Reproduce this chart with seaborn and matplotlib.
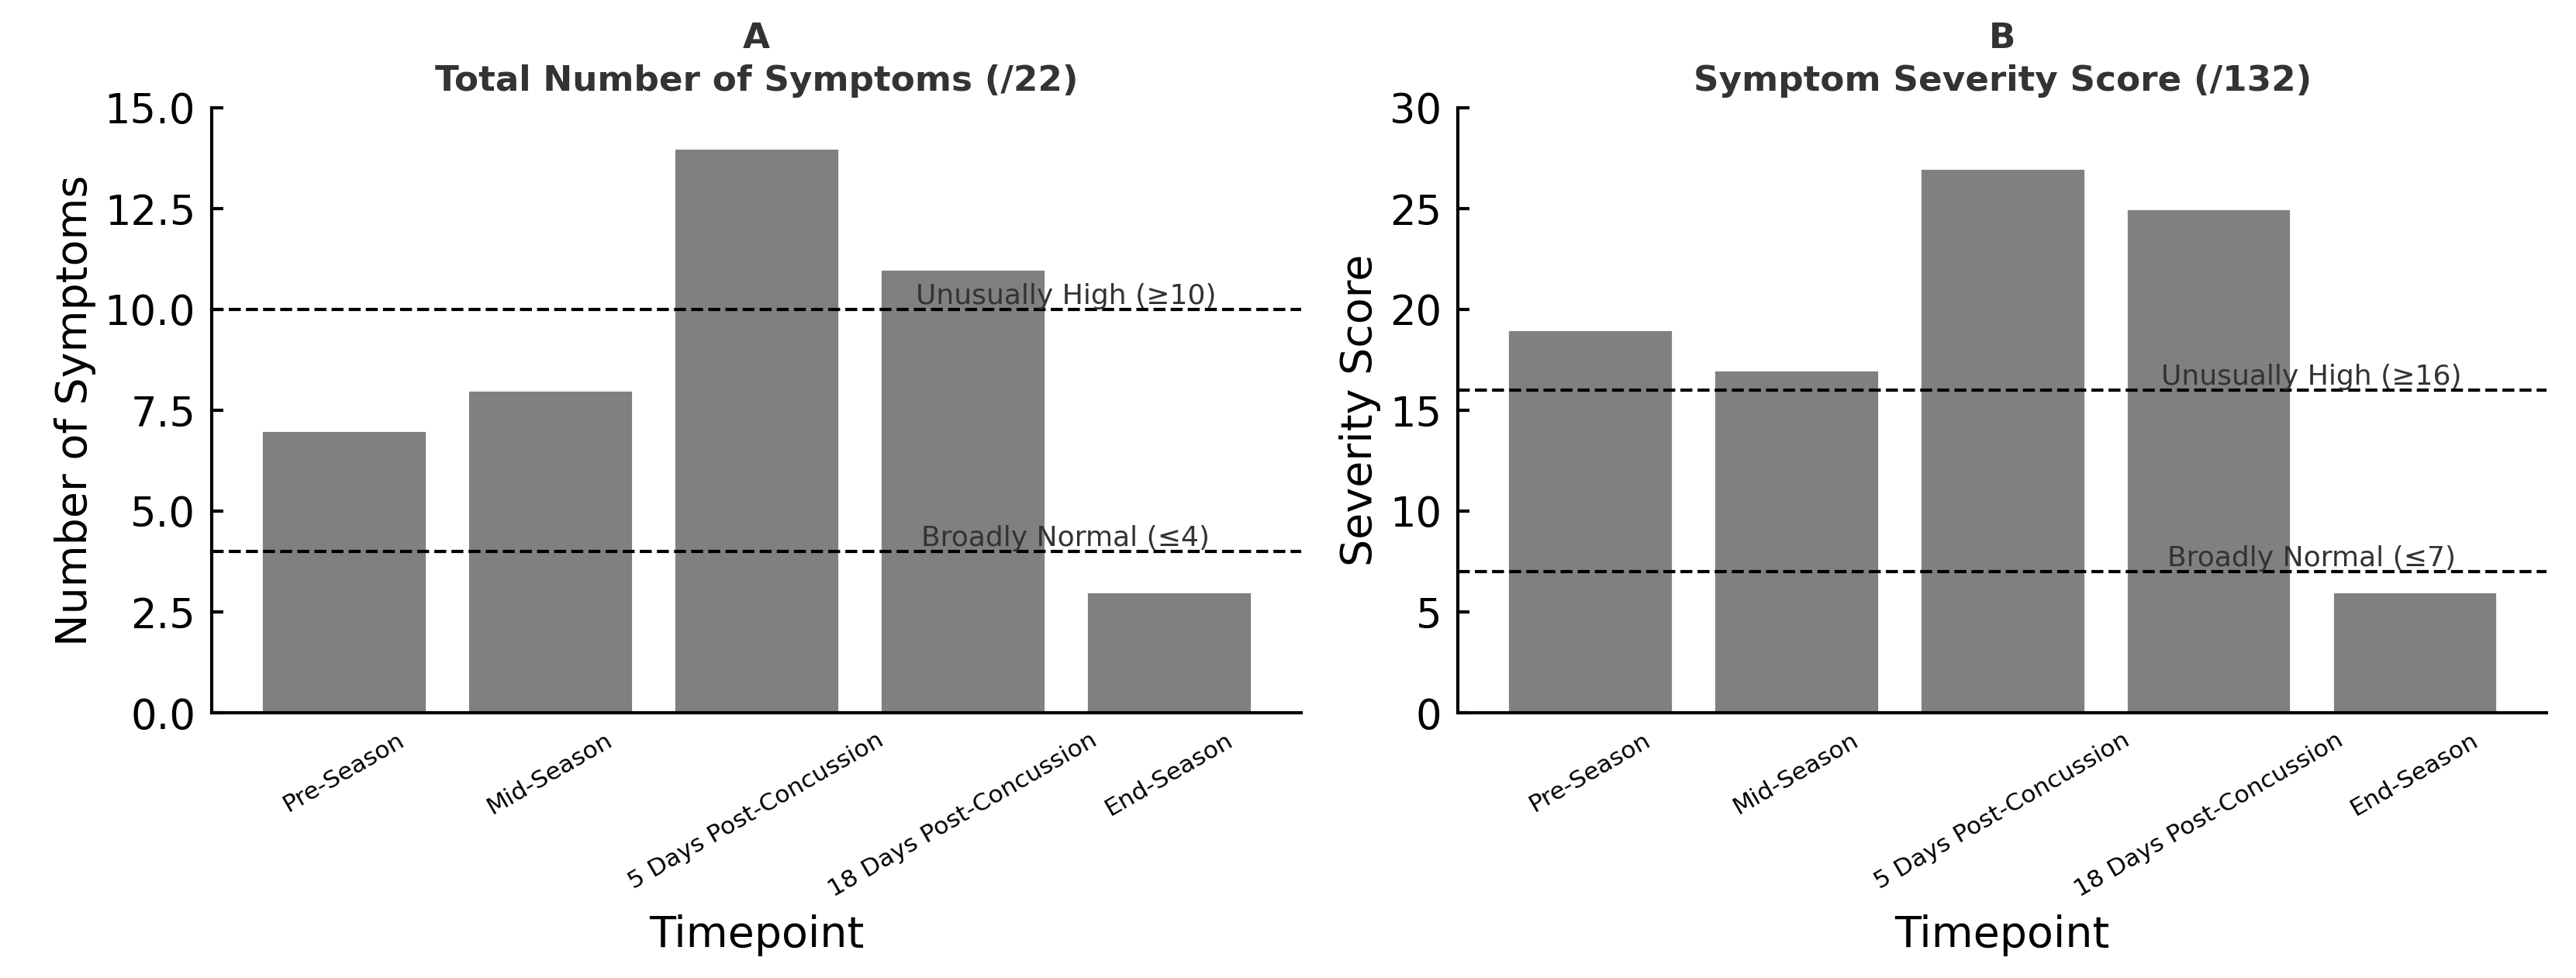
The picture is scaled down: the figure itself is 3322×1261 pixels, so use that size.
import matplotlib
matplotlib.use("Agg")
import matplotlib.pyplot as plt
import seaborn as sns
import pandas as pd

# data
timepoints = ["Pre-Season", "Mid-Season", "5 Days Post-Concussion",
              "18 Days Post-Concussion", "End-Season"]
n_symptoms = [7, 8, 14, 11, 3]
severity = [19, 17, 27, 25, 6]

sym_high, sym_normal = 10, 4
sev_high, sev_normal = 16, 7

sns.set_style("ticks")
plt.rcParams['font.family'] = ['DejaVu Sans']
plt.rcParams.update({
    "xtick.direction": "in",
    "ytick.direction": "in",
    "axes.linewidth": 1.5,
    "axes.edgecolor": "black",
    "xtick.color": "black",
    "ytick.color": "black",
    "axes.labelcolor": "black",
    "xtick.major.width": 1.5,
    "ytick.major.width": 1.5,
    "xtick.major.size": 5.4,
    "ytick.major.size": 5.4,
})

df = pd.DataFrame({"Timepoint": timepoints,
                   "Symptoms": n_symptoms,
                   "Severity": severity})

fig = plt.figure(figsize=(16.61, 6.305), dpi=200)
ax1 = fig.add_axes([0.0822, 0.2712, 0.4228, 0.6186])
ax2 = fig.add_axes([0.5660, 0.2712, 0.4226, 0.6186])

panels = [
    ("Symptoms", "A\nTotal Number of Symptoms (/22)", "Number of Symptoms",
     sym_high, sym_normal, (0, 15), [0, 2.5, 5, 7.5, 10, 12.5, 15], "{:.1f}"),
    ("Severity", "B\nSymptom Severity Score (/132)", "Severity Score",
     sev_high, sev_normal, (0, 30), [0, 5, 10, 15, 20, 25, 30], "{:.0f}"),
]

for ax, (col, title, ylab, hi, lo, ylim, yt, fmt) in zip([ax1, ax2], panels):
    sns.barplot(data=df, x="Timepoint", y=col, color="#808080",
                saturation=1, width=0.8, ax=ax)
    ax.axhline(hi, color="black", linestyle="--", linewidth=1.5)
    ax.axhline(lo, color="black", linestyle="--", linewidth=1.5)
    ax.text(3.5, hi, f"Unusually High (\u2265{hi})", ha="center", va="bottom",
            fontsize=13, color="#333333")
    ax.text(3.5, lo, f"Broadly Normal (\u2264{lo})", ha="center", va="bottom",
            fontsize=13, color="#333333")
    ax.set_xlim(-0.64, len(timepoints) - 0.36)
    ax.set_ylim(*ylim)
    ax.set_yticks(yt)
    ax.set_yticklabels([fmt.format(v) for v in yt], fontsize=19)
    ax.set_xticks(range(len(timepoints)))
    ax.set_xticklabels(timepoints, rotation=30, fontsize=11.3)
    ax.tick_params(axis="both", pad=7.5)
    ax.set_title(title, fontsize=16.3, fontweight="bold", color="#333333",
                 linespacing=1.35, pad=8)
    ax.set_ylabel(ylab, fontsize=20)
    ax.set_xlabel("Timepoint", fontsize=20, labelpad=6)
    sns.despine(ax=ax)

fig.savefig("out.png", dpi=200)
